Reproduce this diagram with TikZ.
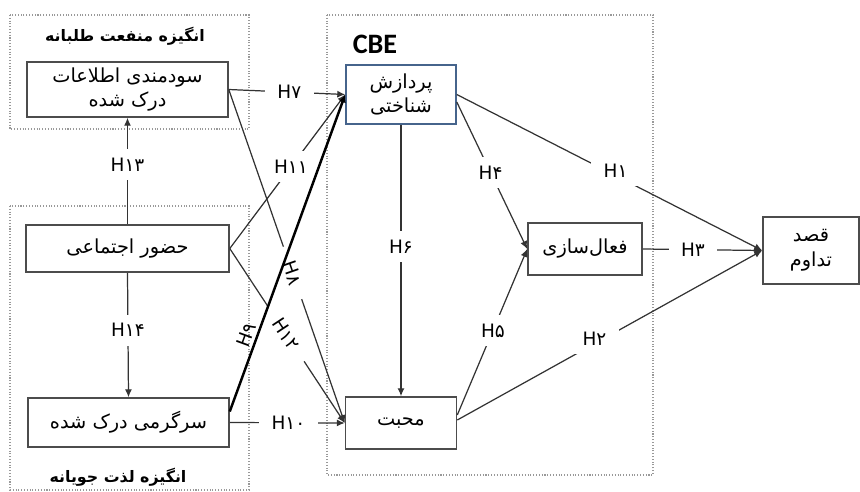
\documentclass[tikz,border=0pt]{standalone}
\usepackage{fontspec}
\usepackage{xcolor}
\usepackage{tikz}
\usetikzlibrary{arrows.meta}
\TeXXeTstate=1
\newfontfamily\arabicfont[Script=Arabic]{DejaVu Sans}
\newfontfamily\cbefont{Carlito}
\newcommand{\pers}[1]{{\arabicfont\beginR #1\endR}}
\definecolor{cogblue}{RGB}{70,100,140}

\begin{document}
\begin{tikzpicture}[x=0.02cm, y=-0.02cm,
        >={Latex[length=4.5pt,width=4pt]},
        box/.style={draw=black!70, line width=0.9pt, fill=white, inner sep=0pt, align=center,
            font=\arabicfont\fontsize{11}{14}\selectfont},
        group/.style={draw=black!40, densely dotted, line width=0.6pt},
        link/.style={->, draw=black!80, line width=0.7pt},
        hyp/.style={fill=white, inner xsep=7pt, inner ysep=5pt, font=\arabicfont\fontsize{10.5}{11}\selectfont},
        slopedhyp/.style={hyp, sloped, inner xsep=9pt, inner ysep=0.5pt},
        title/.style={font=\bfseries\fontsize{9}{11}\selectfont}]
        \useasboundingbox (0,0) rectangle (860,491);
        % dotted groups
        \draw[group] (10,15) rectangle (249,129);
        \draw[group] (10,206) rectangle (249,490);
        \draw[group] (327,15) rectangle (653,475);
        \node[title] (benefit) at (125,36) {\pers{انگیزه منفعت طلبانه}};
        \node[title] (hedonic) at (118,477) {\pers{انگیزه لذت جویانه}};
        \node[font=\cbefont\bfseries\fontsize{16}{18}\selectfont] (cbe) at (375,44) {CBE};
        % boxes
        \node[box, minimum width=4.02cm, minimum height=1.1cm] (info) at (127.5,89.5)
            {\pers{سودمندی اطلاعات}\\\pers{درک شده}};
        \node[box, minimum width=4.06cm, minimum height=0.94cm] (social) at (127.5,248.5) {\pers{حضور اجتماعی}};
        \node[box, minimum width=4.02cm, minimum height=0.98cm] (fun) at (128.5,422.5) {\pers{سرگرمی درک شده}};
        \node[box, draw=cogblue, minimum width=2.2cm, minimum height=1.18cm] (cog) at (401,94.5)
            {\pers{پردازش}\\\pers{شناختی}};
        \node[box, minimum width=2.22cm, minimum height=1.04cm] (love) at (401,423) {\pers{محبت}};
        \node[box, minimum width=2.28cm, minimum height=1.04cm] (act) at (585,249) {\pers{فعال‌سازی}};
        \node[box, minimum width=1.92cm, minimum height=1.34cm] (intent) at (811,250.5)
            {\pers{قصد}\\\pers{تداوم}};
        % hypotheses
        \foreach \from/\to/\p/\h in {social.north/info.south/0.56/H۱۳, social.south/fun.north/0.46/H۱۴,
                info.east/cog.west/0.52/H۷, social.east/cog.west/0.53/H۱۱, fun.east/love.west/0.51/H۱۰,
                cog.south/love.north/0.45/H۶, act.east/intent.west/0.42/H۳} {
            \draw[link] (\from) -- node[hyp, pos=\p] {\h} (\to);
        }
        \draw[link] (info.east) -- node[slopedhyp, pos=0.55] {H۸} (love.west);
        \draw[link] (social.east) -- node[slopedhyp, pos=0.49] {H۱۲} (love.west);
        \draw[link, draw=black, line width=1.4pt] ([yshift=0.22cm]fun.east) -- node[hyp, fill=none, inner sep=1.5pt, sloped, above, pos=0.23] {H۹} (cog.west);
        \draw[link] ([yshift=-0.15cm]cog.east) -- node[hyp, pos=0.48] {H۴} (act.west);
        \draw[link] ([yshift=0.16cm]love.east) -- node[hyp, pos=0.51] {H۵} (act.west);
        \draw[link] (cog.east) -- node[hyp, pos=0.52, yshift=0.1cm] {H۱} (intent.west);
        \draw[link] ([yshift=0.06cm]love.east) -- node[hyp, pos=0.45, yshift=0.1cm] {H۲} (intent.west);
    \end{tikzpicture}
\end{document}
